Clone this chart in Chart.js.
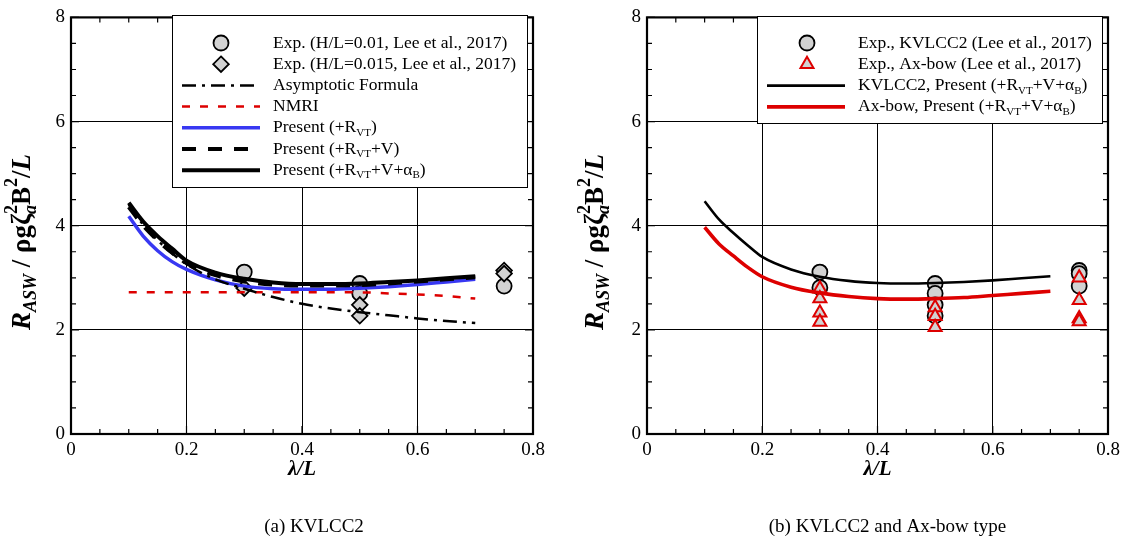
<!DOCTYPE html>
<html><head><meta charset="utf-8">
<script src="https://cdn.jsdelivr.net/npm/chart.js@4.4.1/dist/chart.umd.min.js"></script>
<style>
html,body{margin:0;padding:0;background:#fff;}
#wrap{position:relative;width:1128px;height:538px;overflow:hidden;}
.c{position:absolute;top:0;width:564px;height:538px;}
#ca{left:0;} #cb{left:564px;}
</style></head><body>
<div id="wrap"><div class="c" id="ca"><canvas id="A" width="564" height="538"></canvas></div><div class="c" id="cb"><canvas id="B" width="564" height="538"></canvas></div></div>
<script>
// ---------------- data ----------------
const X_TICKS = [0, 0.2, 0.4, 0.6, 0.8];
const Y_TICKS = [0, 2, 4, 6, 8];
const CURVE_LAMBDA = [0.1,0.125,0.15,0.175,0.2,0.25,0.3,0.35,0.4,0.45,0.5,0.55,0.6,0.65,0.7];
// (a) KVLCC2
const A_ASYMPTOTIC   = [4.40,4.02,3.72,3.47,3.26,2.97,2.79,2.63,2.50,2.41,2.34,2.28,2.22,2.17,2.13];
const A_NMRI         = [2.72,2.72,2.72,2.72,2.72,2.72,2.72,2.72,2.72,2.72,2.72,2.70,2.68,2.65,2.60];
const A_PRESENT_VT   = [4.18,3.80,3.52,3.31,3.16,2.96,2.84,2.79,2.78,2.78,2.80,2.83,2.87,2.92,2.97];
const A_PRESENT_VT_V = [4.36,4.00,3.72,3.48,3.28,3.05,2.93,2.87,2.85,2.85,2.86,2.89,2.93,2.97,3.01];
const A_PRESENT_FULL = [4.44,4.08,3.80,3.56,3.33,3.10,2.98,2.91,2.88,2.88,2.89,2.92,2.95,2.99,3.03];
const EXP_H001_LAMBDA  = [0.3,0.5,0.5,0.75];
const EXP_H001         = [3.11,2.89,2.70,2.84];
const EXP_H0015_LAMBDA = [0.3,0.5,0.5,0.75,0.75];
const EXP_H0015        = [2.80,2.48,2.27,3.14,3.08];
// (b) KVLCC2 and Ax-bow
const B_KVLCC2 = [4.47,4.12,3.86,3.62,3.40,3.16,3.02,2.94,2.90,2.89,2.90,2.92,2.95,2.99,3.03];
const B_AXBOW  = [3.97,3.65,3.42,3.20,3.02,2.82,2.71,2.64,2.60,2.59,2.60,2.62,2.66,2.70,2.74];
const EXP_KV_LAMBDA = [0.3,0.3,0.5,0.5,0.5,0.5,0.75,0.75,0.75];
const EXP_KV        = [3.11,2.81,2.89,2.70,2.48,2.27,3.14,3.08,2.84];
const EXP_AX_LAMBDA = [0.3,0.3,0.3,0.3,0.5,0.5,0.5,0.75,0.75,0.75,0.75];
const EXP_AX        = [2.79,2.60,2.33,2.15,2.43,2.26,2.05,3.00,2.57,2.22,2.16];
// texts
const CAPTION_A = "(a) KVLCC2";
const CAPTION_B = "(b) KVLCC2 and Ax-bow type";
const LEG_A = [
  [{t:"Exp. (H/L=0.01, Lee et al., 2017)"}],
  [{t:"Exp. (H/L=0.015, Lee et al., 2017)"}],
  [{t:"Asymptotic Formula"}],
  [{t:"NMRI"}],
  [{t:"Present (+R"},{t:"VT",sub:1},{t:")"}],
  [{t:"Present (+R"},{t:"VT",sub:1},{t:"+V)"}],
  [{t:"Present (+R"},{t:"VT",sub:1},{t:"+V+α"},{t:"B",sub:1},{t:")"}]
];
const LEG_B = [
  [{t:"Exp., KVLCC2 (Lee et al., 2017)"}],
  [{t:"Exp., Ax-bow (Lee et al., 2017)"}],
  [{t:"KVLCC2, Present (+R"},{t:"VT",sub:1},{t:"+V+α"},{t:"B",sub:1},{t:")"}],
  [{t:"Ax-bow, Present (+R"},{t:"VT",sub:1},{t:"+V+α"},{t:"B",sub:1},{t:")"}]
];
const X_TITLE = [{t:'λ/L'}];
const Y_TITLE = [
  {t:'R', style:'italic bold'}, {t:'ASW', sub:1, style:'italic bold'},
  {t:' / ', style:'bold'}, {t:'ρgζ', style:'bold'},
  {t:'2', sup:1, stack:1, style:'bold'}, {t:'a', sub:1, style:'italic bold'},
  {t:'B', style:'bold'}, {t:'2', sup:1, style:'bold'}, {t:'/', style:'bold'}, {t:'L', style:'italic bold'}
];

// ---------------- styles ----------------
const SERIF = '"Liberation Serif","Times New Roman",serif';
const GREY = '#d2d2d2', RED = '#dd0000', BLUE = '#3838f2';
const ST = {
  circle:  {shape:'circle', r:7.5, fill:GREY, stroke:'#000', bw:1.8},
  diamond: {shape:'diamond', r:7.8, fill:GREY, stroke:'#000', bw:1.8},
  tri:     {shape:'triangle', r:7.5, fill:GREY, stroke:RED, bw:2},
  asym:  {color:'#000', width:2.5, dash:[14,6,3,6]},
  nmri:  {color:RED, width:2.5, dash:[8,10]},
  vt:    {color:BLUE, width:3.5, dash:[]},
  vtv:   {color:'#000', width:4, dash:[14,12]},
  full:  {color:'#000', width:4, dash:[]},
  kvB:   {color:'#000', width:2.6, dash:[]},
  axB:   {color:RED, width:3.6, dash:[]}
};

function pts(xs, ys){ return xs.map((x,i)=>({x:x, y:ys[i]})); }
function lineDS(label, ys, s, order){
  return {label, data:pts(CURVE_LAMBDA, ys), showLine:true, pointRadius:0, borderColor:s.color,
    borderWidth:s.width, borderDash:s.dash, fill:false, cubicInterpolationMode:'monotone', order, borderCapStyle:'butt'};
}
function markDS(label, xs, ys, m, order){
  const ps = {circle:'circle', diamond:'rectRot', triangle:'triangle'}[m.shape];
  return {label, data:pts(xs, ys), showLine:false, pointStyle:ps, pointRadius:m.r, pointBackgroundColor:m.fill,
    pointBorderColor:m.stroke, pointBorderWidth:m.bw, order};
}

// ---------------- drawing helpers ----------------
function drawRich(ctx, segs, x, y, size, align, baseStyle){
  const subSize = Math.round(size*0.65);
  const parts = segs.map(s=>{
    const st = s.style || baseStyle || '';
    const fs = (s.sub||s.sup) ? subSize : size;
    return {s, font: st + ' ' + fs + 'px ' + SERIF};
  });
  let total = 0;
  parts.forEach(p=>{ ctx.font=p.font; p.w = ctx.measureText(p.s.t).width; if(!p.s.stack) total += p.w; });
  let cx = align==='center' ? x - total/2 : x;
  ctx.textBaseline = 'middle'; ctx.textAlign = 'left';
  parts.forEach(p=>{
    ctx.font = p.font;
    const dy = p.s.sub ? size*0.3 : (p.s.sup ? -size*0.38 : 0);
    ctx.fillText(p.s.t, cx, y + dy);
    if(!p.s.stack) cx += p.w;
  });
}
function drawMarker(ctx, m, x, y){
  ctx.save(); ctx.beginPath();
  const r = m.r;
  if(m.shape==='circle') ctx.arc(x,y,r,0,Math.PI*2);
  else if(m.shape==='diamond'){ ctx.moveTo(x,y-r); ctx.lineTo(x+r,y); ctx.lineTo(x,y+r); ctx.lineTo(x-r,y); ctx.closePath(); }
  else { for(let k=0;k<3;k++){ const a = k*2*Math.PI/3; const px=x+Math.sin(a)*r, py=y-Math.cos(a)*r; k?ctx.lineTo(px,py):ctx.moveTo(px,py);} ctx.closePath(); }
  ctx.fillStyle=m.fill; ctx.fill(); ctx.lineWidth=m.bw; ctx.strokeStyle=m.stroke; ctx.stroke();
  ctx.restore();
}

const decor = {
  id:'decor',
  afterDraw(chart, args, o){
    const ctx = chart.ctx, ca = chart.chartArea, xs = chart.scales.x, ys = chart.scales.y;
    ctx.save();
    // inward ticks
    ctx.strokeStyle='#000'; ctx.lineWidth=1.2;
    ctx.beginPath();
    for(let i=0;i<=16;i++){
      const v=i*0.05, px=xs.getPixelForValue(v), L=(i%4===0)?8:5;
      ctx.moveTo(px, ca.bottom); ctx.lineTo(px, ca.bottom-L);
      ctx.moveTo(px, ca.top); ctx.lineTo(px, ca.top+L);
    }
    for(let i=0;i<=16;i++){
      const v=i*0.5, py=ys.getPixelForValue(v), L=(i%4===0)?8:5;
      ctx.moveTo(ca.left, py); ctx.lineTo(ca.left+L, py);
      ctx.moveTo(ca.right, py); ctx.lineTo(ca.right-L, py);
    }
    ctx.stroke();
    // frame
    ctx.lineWidth=2.2; ctx.strokeRect(ca.left, ca.top, ca.right-ca.left, ca.bottom-ca.top);
    // legend
    const L = o.legend;
    ctx.fillStyle='#fff'; ctx.fillRect(L.x, L.y, L.w, L.h);
    ctx.lineWidth=1; ctx.strokeStyle='#000'; ctx.strokeRect(L.x+0.5, L.y+0.5, L.w, L.h);
    L.items.forEach((it,i)=>{
      const y = L.row0 + i*L.dy;
      if(it.marker) drawMarker(ctx, it.marker, L.mx, y);
      else {
        ctx.save(); ctx.beginPath(); ctx.setLineDash(it.line.dash); ctx.lineWidth=it.line.width; ctx.strokeStyle=it.line.color;
        ctx.moveTo(L.lx0, y); ctx.lineTo(L.lx1, y); ctx.stroke(); ctx.restore();
      }
      ctx.fillStyle='#000';
      drawRich(ctx, it.text, L.tx, y, L.size, 'left', '');
    });
    // axis titles
    ctx.fillStyle='#000';
    const cx = (ca.left+ca.right)/2;
    drawRich(ctx, X_TITLE, cx, o.xTitleY, 21, 'center', 'italic bold');
    ctx.save();
    ctx.translate(ca.left - o.yTitleDX, o.yTitleY);
    ctx.rotate(-Math.PI/2);
    drawRich(ctx, Y_TITLE, 0, 0, 27, 'center', '');
    ctx.restore();
    // caption
    ctx.font = '19px ' + SERIF; ctx.textAlign='center'; ctx.textBaseline='middle';
    ctx.fillText(o.caption, cx + o.capDX, o.capY);
    ctx.restore();
  }
};

function fmt(v){ return String(+(+v).toFixed(2)); }
function makeOpts(padRight, yWidth, decorOpts){
  return {
    responsive:false, animation:false, devicePixelRatio:1,
    layout:{padding:{top:12, right:padRight, left:0, bottom:0}},
    plugins:{legend:{display:false}, tooltip:{enabled:false}, decor:decorOpts},
    scales:{
      x:{type:'linear', min:X_TICKS[0], max:X_TICKS[X_TICKS.length-1],
         afterFit(s){ s.height = 104; },
         afterBuildTicks(s){ s.ticks = X_TICKS.map(v=>({value:v})); },
         ticks:{font:{family:SERIF, size:19}, color:'#000', padding:5, callback:fmt, maxRotation:0, autoSkip:false},
         grid:{color:'#000', lineWidth:1, drawTicks:false}, border:{display:false}},
      y:{type:'linear', min:Y_TICKS[0], max:Y_TICKS[Y_TICKS.length-1],
         afterFit(s){ s.width = yWidth; },
         afterBuildTicks(s){ s.ticks = Y_TICKS.map(v=>({value:v})); },
         ticks:{font:{family:SERIF, size:19}, color:'#000', padding:6, callback:fmt, autoSkip:false},
         grid:{color:'#000', lineWidth:1, drawTicks:false}, border:{display:false}}
    }
  };
}

new Chart(document.getElementById('A'), {
  type:'scatter',
  data:{datasets:[
    lineDS('Asymptotic Formula', A_ASYMPTOTIC, ST.asym, 2),
    lineDS('Present (+RVT+V)', A_PRESENT_VT_V, ST.vtv, 3),
    lineDS('Present (+RVT+V+αB)', A_PRESENT_FULL, ST.full, 4),
    lineDS('Present (+RVT)', A_PRESENT_VT, ST.vt, 5),
    lineDS('NMRI', A_NMRI, ST.nmri, 6),
    markDS('Exp. (H/L=0.015, Lee et al., 2017)', EXP_H0015_LAMBDA, EXP_H0015, ST.diamond, 8),
    markDS('Exp. (H/L=0.01, Lee et al., 2017)', EXP_H001_LAMBDA, EXP_H001, ST.circle, 9)
  ]},
  options: makeOpts(31, 71, {
    caption:CAPTION_A, capY:527, capDX:12, xTitleY:470, yTitleDX:48, yTitleY:242,
    legend:{x:172, y:15, w:355, h:172, row0:43, dy:21.2, mx:221, lx0:182, lx1:260, tx:273, size:17.5,
      items:[
        {marker:ST.circle, text:LEG_A[0]}, {marker:ST.diamond, text:LEG_A[1]},
        {line:ST.asym, text:LEG_A[2]}, {line:ST.nmri, text:LEG_A[3]},
        {line:ST.vt, text:LEG_A[4]}, {line:ST.vtv, text:LEG_A[5]}, {line:ST.full, text:LEG_A[6]}
      ]}
  })
  ,plugins:[decor]
});

new Chart(document.getElementById('B'), {
  type:'scatter',
  data:{datasets:[
    lineDS('KVLCC2, Present (+RVT+V+αB)', B_KVLCC2, ST.kvB, 2),
    lineDS('Ax-bow, Present (+RVT+V+αB)', B_AXBOW, ST.axB, 3),
    markDS('Exp., Ax-bow (Lee et al., 2017)', EXP_AX_LAMBDA, EXP_AX, ST.tri, 8),
    markDS('Exp., KVLCC2 (Lee et al., 2017)', EXP_KV_LAMBDA, EXP_KV, ST.circle, 9)
  ]},
  options: makeOpts(20, 83, {
    caption:CAPTION_B, capY:527, capDX:10, xTitleY:470, yTitleDX:51, yTitleY:242,
    legend:{x:757-564, y:16, w:345, h:107, row0:43, dy:21.3, mx:807-564, lx0:767-564, lx1:845-564, tx:858-564, size:17.5,
      items:[
        {marker:ST.circle, text:LEG_B[0]}, {marker:ST.tri, text:LEG_B[1]},
        {line:ST.kvB, text:LEG_B[2]}, {line:ST.axB, text:LEG_B[3]}
      ]}
  })
  ,plugins:[decor]
});
</script>
</body></html>
